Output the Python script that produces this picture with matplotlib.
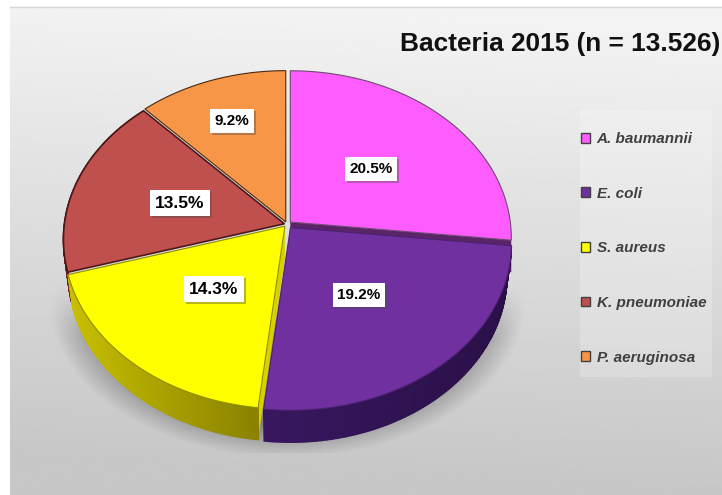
import matplotlib
matplotlib.use('Agg')
import matplotlib.colors as mcolors
import matplotlib.patches as mpatches
import matplotlib.patheffects as pe
import matplotlib.pyplot as plt
import numpy as np

plt.rcParams['font.family'] = ['Liberation Sans', 'DejaVu Sans']

# data
species = ['A. baumannii', 'E. coli', 'S. aureus', 'K. pneumoniae', 'P. aeruginosa']
shares = [20.5, 19.2, 14.3, 13.5, 9.2]
share_labels = ['20.5%', '19.2%', '14.3%', '13.5%', '9.2%']
title = 'Bacteria 2015 (n = 13.526)'

# styles
top_colors = ['#ff5cff', '#7030a0', '#ffff00', '#c0504d', '#f79646']
edge_colors = ['#6e4a6e', '#4b2270', '#8f8f00', '#4a1a1a', '#4a2a10']
edge_widths = [0.8, 0.8, 0.8, 1.2, 0.8]
wall_left = [None, '#38175f', '#c8bf00', '#6e1f22', None]
wall_right = [None, '#2a1048', '#8a8200', '#6e1f22', None]
cut_colors = ['#5a2468', None, '#d8d000', None, None]
explode = [0.02, 0.025, 0.015, 0.012, 0.015]
label_xy = [(371, 169), (359, 295), (214, 289), (180, 203), (232, 121)]
label_size = [11, 11, 12.5, 12.5, 11]

CX, CY, RX, RY = 287, 240, 221, 167
TILT = 0.094
DEPTH = 32
SHRINK = 0.98


def rim(theta, dx=0, dy=0):
    # circle seen in perspective, the centre ends up above the middle of the ellipse
    t = np.radians(theta)
    den = 1 + TILT * np.sin(t)
    x = np.cos(t) * np.sqrt(1 - TILT ** 2) / den
    y = (np.sin(t) + TILT) / den
    return CX + RX * x + dx, CY - RY * y + dy


fig = plt.figure(figsize=(7.22, 4.95), dpi=100)
ax = fig.add_axes([0, 0, 1, 1])

# panel gradient
yy, xx = np.mgrid[0:1:200j, 0:1:200j]
panel = 0.955 - 0.175 * np.clip(yy * 1.05 - 0.08 * (xx - 0.5), 0, 1)
ax.imshow(panel, extent=(10, 722, 495, 7), cmap='gray', vmin=0, vmax=1, aspect='auto', zorder=0)
ax.plot([10, 722], [7, 7], color='#d4d4d4', lw=1, zorder=1)

# soft shadow under the pie
yy, xx = np.mgrid[285:453:170j, 48:526:300j]
dist = np.sqrt(((xx - 287) / 240) ** 2 + ((yy - 300) / 158) ** 2)
shadow = np.zeros(dist.shape + (4,))
shadow[..., 3] = np.clip((1 - dist) / 0.22, 0, 1) * 0.38 * np.clip((yy - 285) / 50, 0, 1)
ax.imshow(shadow, extent=(48, 526, 453, 285), aspect='auto', zorder=1)

# legend background
ax.add_patch(mpatches.Rectangle((580, 110), 132, 267, color='white', alpha=0.22, lw=0, zorder=1))

cum = np.cumsum([0] + shares) / sum(shares) * 360
starts = 90 - cum[:-1]
ends = 90 - cum[1:]

# sides first, the top faces cover what should not show
for i in [0, 3, 2, 1]:
    theta = np.linspace(starts[i], ends[i], 120)
    mid = np.radians((starts[i] + ends[i]) / 2)
    dx = explode[i] * np.cos(mid) * RX
    dy = -explode[i] * np.sin(mid) * RY
    ax_x = CX + dx
    ax_y = CY - RY * TILT + dy
    if cut_colors[i]:
        side = ends[i] if i == 0 else starts[i]
        rx, ry = rim(side, dx, dy)
        ax.fill([ax_x, rx, rx, ax_x], [ax_y, ry, ry + DEPTH, ax_y + DEPTH],
                color=cut_colors[i], lw=0, zorder=2)
    if wall_left[i]:
        x, y = rim(theta, dx, dy)
        xb = CX + (x - CX) * SHRINK
        c0 = np.array(mcolors.to_rgb(wall_left[i]))
        c1 = np.array(mcolors.to_rgb(wall_right[i]))
        for k in range(len(theta) - 1):
            f = np.clip((x[k] - x.min()) / (x.max() - x.min()), 0, 1)
            ax.fill([x[k], x[k + 1], xb[k + 1], xb[k]],
                    [y[k], y[k + 1], y[k + 1] + DEPTH, y[k] + DEPTH],
                    color=c0 + (c1 - c0) * f, lw=1, zorder=2)

# top faces
for i in range(len(shares)):
    theta = np.linspace(starts[i], ends[i], 120)
    mid = np.radians((starts[i] + ends[i]) / 2)
    dx = explode[i] * np.cos(mid) * RX
    dy = -explode[i] * np.sin(mid) * RY
    x, y = rim(theta, dx, dy)
    ax.fill(np.r_[CX + dx, x], np.r_[CY - RY * TILT + dy, y], facecolor=top_colors[i],
            edgecolor=edge_colors[i], lw=edge_widths[i], zorder=3, label=species[i])

# value labels
for lab, (lx, ly), size in zip(share_labels, label_xy, label_size):
    t = ax.text(lx, ly, lab, fontsize=size, fontweight='bold', color='black', ha='center', va='center',
                bbox=dict(facecolor='white', edgecolor='none', boxstyle='square,pad=0.3'), zorder=5)
    t.get_bbox_patch().set_path_effects([pe.withSimplePatchShadow(offset=(1.5, -1.5), alpha=0.4)])

ax.text(720, 44, title, fontsize=18.9, fontweight='bold', color='#111111', ha='right', va='center', zorder=5)

handles = [mpatches.Patch(facecolor=c, edgecolor='#404040', lw=1) for c in top_colors]
leg = ax.legend(handles, species, loc='upper left', bbox_to_anchor=(581, 132), bbox_transform=ax.transData,
                frameon=False, handlelength=0.62, handleheight=0.62, handletextpad=0.4, borderpad=0, borderaxespad=0,
                labelspacing=2.66, prop=dict(family='Liberation Sans', size=11, weight='bold', style='italic'))
for txt in leg.get_texts():
    txt.set_color('#404040')

ax.set_xlim(0, 722)
ax.set_ylim(495, 0)
ax.axis('off')
fig.savefig('out.png', dpi=100, facecolor='white')
